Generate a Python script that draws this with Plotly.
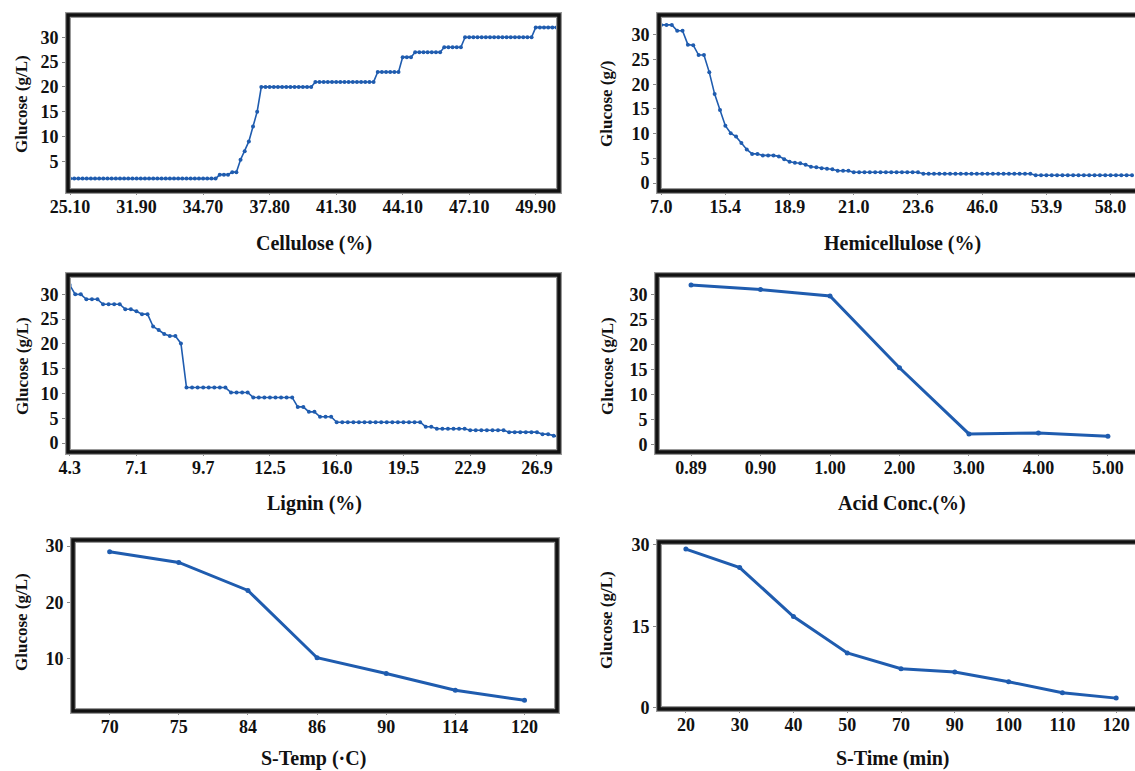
import plotly.graph_objects as go

W, H = 1135, 771

# ---------------- data ----------------
# Panel 1: Cellulose (%) -> Glucose (g/L); points in sorted order, 16 points per labelled tick
cellulose_ticks = ["25.10", "31.90", "34.70", "37.80", "41.30", "44.10", "47.10", "49.90"]
cellulose_glucose = [
    1.5, 1.5, 1.5, 1.5, 1.5, 1.5, 1.5, 1.5, 1.5, 1.5, 1.5, 1.5, 1.5, 1.5, 1.5, 1.5, 1.5, 1.5,
    1.5, 1.5, 1.5, 1.5, 1.5, 1.5, 1.5, 1.5, 1.5, 1.5, 1.5, 1.5, 1.5, 1.5, 1.5, 1.5, 1.5, 1.5,
    2.3, 2.3, 2.3, 2.8, 2.8,
    5.3, 7.0, 9.0, 12.0, 15.0,
    20, 20, 20, 20, 20, 20, 20, 20, 20, 20, 20, 20, 20,
    21, 21, 21, 21, 21, 21, 21, 21, 21, 21, 21, 21, 21, 21, 21,
    23, 23, 23, 23, 23, 23,
    26, 26, 26,
    27, 27, 27, 27, 27, 27, 27,
    28, 28, 28, 28, 28,
    30, 30, 30, 30, 30, 30, 30, 30, 30, 30, 30, 30, 30, 30, 30, 30, 30,
    32, 32, 32, 32, 32, 32,
]
cellulose_pts_per_tick = 16

# Panel 2: Hemicellulose (%) -> Glucose; 12 points per labelled tick
hemi_ticks = ["7.0", "15.4", "18.9", "21.0", "23.6", "46.0", "53.9", "58.0"]
hemi_glucose = [
    32, 32, 32, 30.8, 30.8, 28.0, 27.9, 25.9, 25.9, 22.4, 18.0, 14.8,
    11.6, 10.1, 9.4, 8.1, 6.8, 5.9, 5.9, 5.6, 5.6, 5.6, 5.4, 4.8,
    4.3, 4.1, 4.0, 3.7, 3.3, 3.2, 3.0, 2.9, 2.8, 2.5, 2.5, 2.5,
    2.2, 2.2, 2.2, 2.2, 2.2, 2.2, 2.2, 2.2, 2.2, 2.2, 2.2, 2.2, 2.2,
    1.9, 1.9, 1.9, 1.9, 1.9, 1.9, 1.9, 1.9, 1.9, 1.9, 1.9, 1.9, 1.9, 1.9, 1.9, 1.9, 1.9, 1.9,
    1.9, 1.9, 1.9,
    1.6, 1.6, 1.6, 1.6, 1.6, 1.6, 1.6, 1.6, 1.6, 1.6, 1.6, 1.6, 1.6, 1.6, 1.6, 1.6, 1.6, 1.6, 1.6,
]
hemi_pts_per_tick = 12

# Panel 3: Lignin (%) -> Glucose; 12 points per labelled tick
lignin_ticks = ["4.3", "7.1", "9.7", "12.5", "16.0", "19.5", "22.9", "26.9"]
lignin_glucose = [
    31.9, 30.0, 30.0, 29.0, 29.0, 29.0, 28.0, 28.0, 28.0, 28.0, 27.0, 27.0,
    26.6, 26.0, 26.0, 23.5, 22.8, 22.0, 21.6, 21.6, 20.1,
    11.2, 11.2, 11.2, 11.2, 11.2, 11.2, 11.2, 11.2,
    10.2, 10.2, 10.2, 10.2,
    9.2, 9.2, 9.2, 9.2, 9.2, 9.2, 9.2, 9.2,
    7.3, 7.3, 6.3, 6.3, 5.3, 5.3, 5.3,
    4.2, 4.2, 4.2, 4.2, 4.2, 4.2, 4.2, 4.2, 4.2, 4.2, 4.2, 4.2, 4.2, 4.2, 4.2, 4.2,
    3.3, 3.3,
    2.9, 2.9, 2.9, 2.9, 2.9, 2.9,
    2.6, 2.6, 2.6, 2.6, 2.6, 2.6, 2.6,
    2.2, 2.2, 2.2, 2.2, 2.2, 2.2,
    1.8, 1.8, 1.5, 1.2,
]
lignin_pts_per_tick = 12

# Panel 4: Acid concentration
acid_conc = ["0.89", "0.90", "1.00", "2.00", "3.00", "4.00", "5.00"]
acid_glucose = [31.9, 31.0, 29.7, 15.4, 2.2, 2.4, 1.75]

# Panel 5: S-Temp
s_temp = ["70", "75", "84", "86", "90", "114", "120"]
s_temp_glucose = [29.0, 27.1, 22.1, 10.1, 7.3, 4.3, 2.5]

# Panel 6: S-Time
s_time = ["20", "30", "40", "50", "70", "90", "100", "110", "120"]
s_time_glucose = [29.2, 25.8, 16.8, 10.1, 7.2, 6.6, 4.8, 2.8, 1.8]

# ---------------- styling ----------------
FONT = "Liberation Serif"
BLUE = "#1f5caf"
TICK_FONT = dict(family=FONT, size=18, color="#111")
TITLE_FONT = dict(family=FONT, size=20, color="#111")
YTITLE_FONT = dict(family=FONT, size=17, color="#111")


def px_x(v):
    return v / W


def px_y(v):
    return 1 - v / H


# frame pixel boxes: (left, right, top, bottom)
boxes = [
    (68, 559, 15, 191),
    (659, 1135, 15, 191),
    (68, 559, 275, 452),
    (657, 1135, 275, 452),
    (73, 557, 540, 711),
    (659, 1135, 542, 709),
]

panels = [
    dict(y=cellulose_glucose, ticks=cellulose_ticks, per=cellulose_pts_per_tick,
         xr=[-0.5, 7.35 * 16], yr=[-1.0, 34.5], yt=[5, 10, 15, 20, 25, 30],
         xt="Cellulose (%)", yl="Glucose (g/L)", dense=True),
    dict(y=hemi_glucose, ticks=hemi_ticks, per=hemi_pts_per_tick,
         xr=[-0.4, 7.38 * 12], yr=[-1.6, 34.0], yt=[0, 5, 10, 15, 20, 25, 30],
         xt="Hemicellulose (%)", yl="Glucose (g/)", dense=True),
    dict(y=lignin_glucose, ticks=lignin_ticks, per=lignin_pts_per_tick,
         xr=[-0.3, 7.33 * 12], yr=[-1.8, 33.9], yt=[0, 5, 10, 15, 20, 25, 30],
         xt="Lignin (%)", yl="Glucose (g/L)", dense=True),
    dict(y=acid_glucose, ticks=acid_conc, per=1,
         xr=[-0.49, 6.39], yr=[-1.4, 33.9], yt=[0, 5, 10, 15, 20, 25, 30],
         xt="Acid Conc.(%)", yl="Glucose (g/L)", dense=False),
    dict(y=s_temp_glucose, ticks=s_temp, per=1,
         xr=[-0.53, 6.47], yr=[0.6, 31.1], yt=[10, 20, 30],
         xt="S-Temp (·C)", yl="Glucose (g/L)", dense=False),
    dict(y=s_time_glucose, ticks=s_time, per=1,
         xr=[-0.5, 8.35], yr=[-0.2, 30.5], yt=[0, 15, 30],
         xt="S-Time (min)", yl="Glucose (g/L)", dense=False),
]

ytitle_pos = [(22, 104), (607, 104), (22, 366), (607, 366), (21, 622), (606, 620)]
xtitle_pos = [(314, 243), (902, 243), (314, 503), (902, 503), (313, 758), (893, 758)]

fig = go.Figure()
shapes = []
annotations = []
layout = dict(
    template="none",
    width=W, height=H, margin=dict(l=0, r=0, t=0, b=0, pad=0, autoexpand=False),
    paper_bgcolor="white", plot_bgcolor="white", showlegend=False,
)

for k, (p, box) in enumerate(zip(panels, boxes)):
    n = k + 1
    xa = "x" if n == 1 else f"x{n}"
    ya = "y" if n == 1 else f"y{n}"
    xs = list(range(len(p["y"])))
    if p["dense"]:
        line = dict(color=BLUE, width=1.6)
        marker = dict(color=BLUE, size=4, symbol="circle")
    else:
        line = dict(color=BLUE, width=3)
        marker = dict(color=BLUE, size=5, symbol="circle")
    fig.add_trace(go.Scatter(x=xs, y=p["y"], mode="lines+markers", line=line,
                             marker=marker, xaxis=xa, yaxis=ya, cliponaxis=True))
    l, r, t, b = box
    xkey = "xaxis" if n == 1 else f"xaxis{n}"
    ykey = "yaxis" if n == 1 else f"yaxis{n}"
    tickvals = [i * p["per"] for i in range(len(p["ticks"]))]
    layout[xkey] = dict(
        domain=[px_x(l), min(px_x(r), 1.0)], anchor=ya, range=p["xr"],
        tickmode="array", tickvals=tickvals,
        ticktext=[f"<b>{t}</b>" for t in p["ticks"]],
        showgrid=False, zeroline=False, showline=False, automargin=False,
        ticks="outside", ticklen=3, tickwidth=1, tickcolor="#888",
        ticklabelstandoff=-4,
        tickfont=TICK_FONT,
    )
    layout[ykey] = dict(
        domain=[px_y(b), px_y(t)], anchor=xa, range=p["yr"],
        tickmode="array", tickvals=p["yt"],
        ticktext=[f"<b>{v}</b>" for v in p["yt"]],
        showgrid=False, zeroline=False, showline=False, automargin=False,
        ticks="outside", ticklen=5, tickwidth=1, tickcolor="#888",
        tickfont=TICK_FONT,
    )
    x1 = 1.02 if r >= W else 1.0
    shapes.append(dict(type="rect", xref=f"{xa} domain", yref=f"{ya} domain",
                       x0=0, x1=x1, y0=0, y1=1,
                       line=dict(color="#999", width=6), layer="above"))
    shapes.append(dict(type="rect", xref=f"{xa} domain", yref=f"{ya} domain",
                       x0=0, x1=x1, y0=0, y1=1,
                       line=dict(color="#111", width=3.5), layer="above"))
    yx, yy = ytitle_pos[k]
    annotations.append(dict(text=f"<b>{p['yl']}</b>", xref="paper", yref="paper",
                            x=px_x(yx), y=px_y(yy), textangle=-90, showarrow=False,
                            xanchor="center", yanchor="middle", font=YTITLE_FONT))
    tx, ty = xtitle_pos[k]
    annotations.append(dict(text=f"<b>{p['xt']}</b>", xref="paper", yref="paper",
                            x=px_x(tx), y=px_y(ty), showarrow=False,
                            xanchor="center", yanchor="middle", font=TITLE_FONT))

layout["shapes"] = shapes
layout["annotations"] = annotations
fig.update_layout(**layout)

fig.write_html(
    "out.html",
    config={"displayModeBar": False},
    post_script="document.body.style.margin='0';document.body.style.padding='0';"
                "document.body.style.overflow='hidden';",
)
